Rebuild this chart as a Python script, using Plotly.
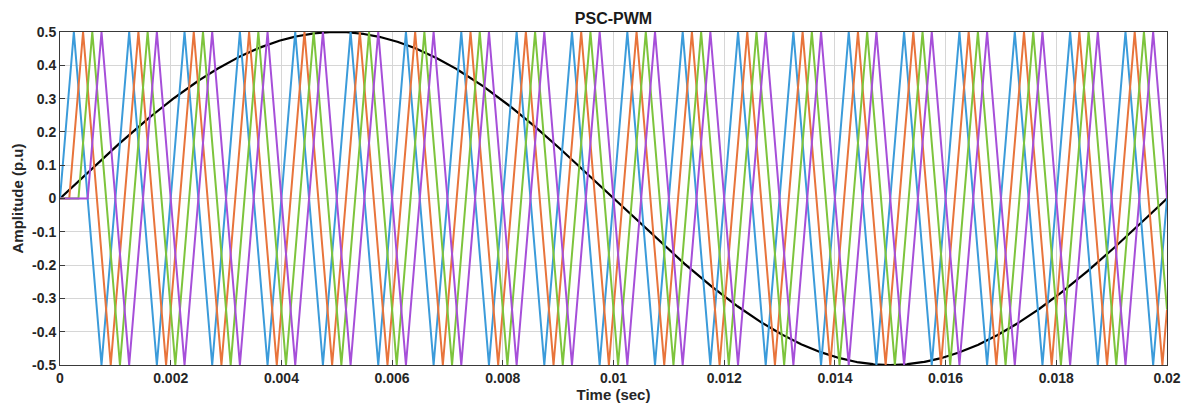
import numpy as np
import plotly.graph_objects as go

# ---- signal parameters ----
t_end = 0.02                 # s, x-axis span
ref_freq_hz = 50             # reference sine frequency
ref_amplitude = 0.5          # p.u.
carrier_freq_hz = 1000       # triangular carrier frequency
carrier_amplitude = 0.5      # p.u.
carrier_delays = [0.0, 1/6000, 2/6000, 3/6000]   # phase shift T/6 between carriers (s)
carrier_names = ["Carrier 1", "Carrier 2", "Carrier 3", "Carrier 4"]
carrier_colors = ["#3B9BDA", "#E8743B", "#7DC43C", "#A64FD9"]

x_tickvals = [0, 0.002, 0.004, 0.006, 0.008, 0.01, 0.012, 0.014, 0.016, 0.018, 0.02]
x_ticktext = ["0", "0.002", "0.004", "0.006", "0.008", "0.01", "0.012", "0.014", "0.016", "0.018", "0.02"]
y_tickvals = [0.5, 0.4, 0.3, 0.2, 0.1, 0, -0.1, -0.2, -0.3, -0.4, -0.5]
y_ticktext = ["0.5", "0.4", "0.3", "0.2", "0.1", "0", "-0.1", "-0.2", "-0.3", "-0.4", "-0.5"]


def carrier_vertices(delay):
    T = 1.0 / carrier_freq_hz
    ts = [0.0, delay]
    vs = [0.0, 0.0]
    k = 0
    while True:
        tv = delay + T / 4 + k * T / 2
        vs_k = carrier_amplitude if k % 2 == 0 else -carrier_amplitude
        if tv >= t_end:
            end_v = np.interp(t_end, [ts[-1], tv], [vs[-1], vs_k])
            ts.append(t_end)
            vs.append(float(end_v))
            break
        ts.append(tv)
        vs.append(vs_k)
        k += 1
    return ts, vs


fig = go.Figure()

t_ref = np.linspace(0, t_end, 2001)
fig.add_trace(go.Scatter(x=t_ref, y=ref_amplitude * np.sin(2 * np.pi * ref_freq_hz * t_ref),
                         mode="lines", name="Reference",
                         line=dict(color="black", width=2.2), showlegend=False))

for d, name, col in zip(carrier_delays, carrier_names, carrier_colors):
    ts, vs = carrier_vertices(d)
    fig.add_trace(go.Scatter(x=ts, y=vs, mode="lines", name=name,
                             line=dict(color=col, width=2), showlegend=False))

font_family = "Liberation Sans, Arial, sans-serif"
axis_common = dict(
    showgrid=True, gridcolor="#D6D6D6", gridwidth=1,
    showline=True, linecolor="#3A3A3A", linewidth=1, mirror=True,
    ticks="inside", ticklen=5, tickcolor="#3A3A3A",
    zeroline=False, automargin=False, ticklabeloverflow="allow",
    tickfont=dict(family=font_family, size=14, color="#262626", weight="bold"),
)

W, H = 1184, 408
fig.update_layout(
    width=W, height=H,
    margin=dict(l=60, r=17, t=32, b=43),
    paper_bgcolor="white", plot_bgcolor="white",
    title=dict(text="PSC-PWM", x=(60 + (W - 17)) / 2 / W, xanchor="center",
               y=1 - 18 / H, yanchor="middle",
               font=dict(family=font_family, size=16, color="#1a1a1a", weight="bold")),
    xaxis=dict(range=[0, t_end], tickvals=x_tickvals, ticktext=x_ticktext,
               title=dict(text="Time (sec)", standoff=0,
                          font=dict(family=font_family, size=15, color="#262626", weight="bold")),
               **axis_common),
    yaxis=dict(range=[-0.5, 0.5], tickvals=y_tickvals, ticktext=y_ticktext,
               title=dict(text="Amplitude (p.u)", standoff=4,
                          font=dict(family=font_family, size=15, color="#262626", weight="bold")),
               **axis_common),
)

fig.write_html("out.html",
               config={"displayModeBar": False},
               post_script="document.body.style.margin='0';document.body.style.overflow='hidden';")
